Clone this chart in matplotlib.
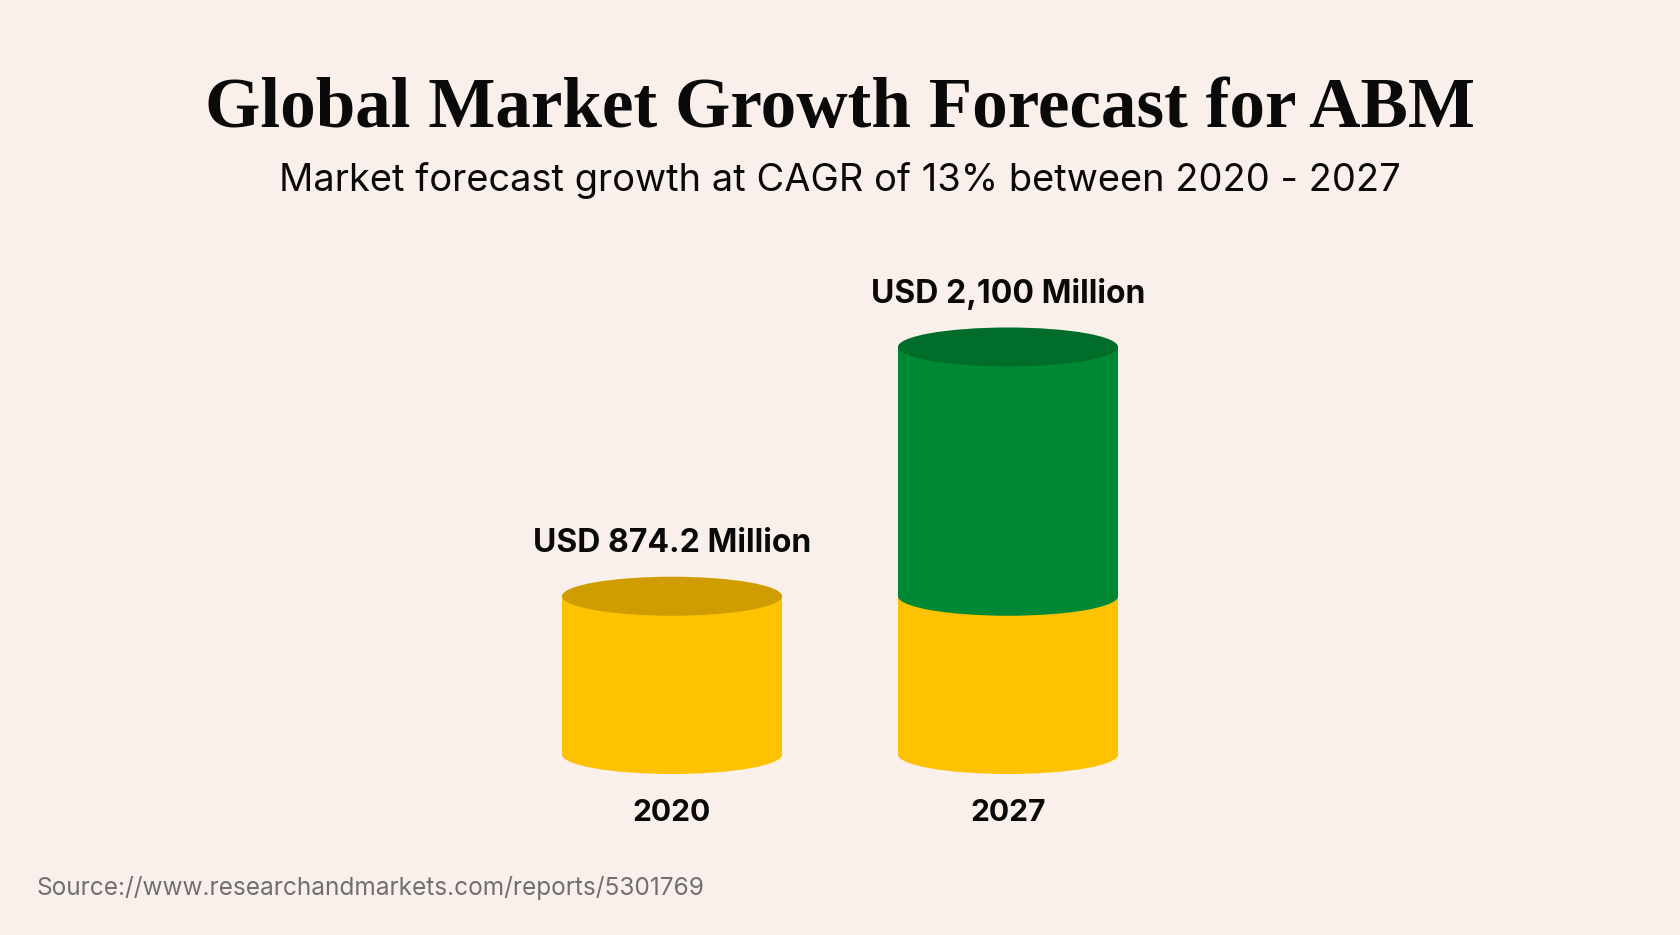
import matplotlib.pyplot as plt
from matplotlib.patches import Ellipse, Rectangle

# data
years = ["2020", "2027"]
base_values = [874.2, 874.2]      # 2020 market size (yellow part)
total_values = [874.2, 2100.0]    # market size in USD million
value_labels = ["USD 874.2 Million", "USD 2,100 Million"]

title = "Global Market Growth Forecast for ABM"
subtitle = "Market forecast growth at CAGR of 13% between 2020 - 2027"
source = "Source://www.researchandmarkets.com/reports/5301769"

BG = "#FAF0EB"
YELLOW, YELLOW_TOP = "#FFC200", "#D09D00"
GREEN, GREEN_TOP = "#008934", "#006E2A"
INK = "#0a0a0a"

fig = plt.figure(figsize=(16.8, 9.35), dpi=100, facecolor=BG)

# axes placed so value 0 sits at the bottom of the cylinders
ax = fig.add_axes([0.3, 0.17219, 0.4, 0.50018])
ax.set_facecolor(BG)
ax.set_xlim(-0.5, 1.5)
ax.set_ylim(0, 2300)
for s in ax.spines.values():
    s.set_visible(False)
ax.set_yticks([])

bar_w = 0.655
ell_h = 192  # ellipse height in data units (~39 px)


def cylinder(x, y0, y1, side, top, z, bottom_cap=True, top_cap=True):
    lo = y0 + ell_h / 2 if bottom_cap else y0
    ax.add_patch(Rectangle((x - bar_w / 2, lo), bar_w, y1 - lo,
                           color=side, lw=0, zorder=z, clip_on=False))
    ax.add_patch(Ellipse((x, lo), bar_w, ell_h, color=side, lw=0,
                         zorder=z, clip_on=False))
    if top_cap:
        ax.add_patch(Ellipse((x, y1), bar_w, ell_h, color=top, lw=0,
                             zorder=z + 0.5, clip_on=False))


for i, (b, t) in enumerate(zip(base_values, total_values)):
    has_green = t > b
    cylinder(i, 0, b, YELLOW, YELLOW_TOP, 2, bottom_cap=True,
             top_cap=not has_green)
    if has_green:
        cylinder(i, b, t, GREEN, GREEN_TOP, 3, bottom_cap=False)
    ax.annotate(value_labels[i], (i, t), xytext=(0, 38),
                textcoords="offset points", ha="center", va="center",
                fontsize=23, fontweight="bold", family="Inter", color=INK)

ax.set_xticks(range(len(years)), years)
ax.tick_params(axis="x", length=0, pad=28, labelsize=21.6)
for lab in ax.get_xticklabels():
    lab.set_fontweight("bold")
    lab.set_family("Inter")
    lab.set_va("center")
    lab.set_color(INK)

fig.text(0.5, 1 - 109 / 935, title, ha="center", va="center",
         fontsize=51.2, fontweight="bold", family="Liberation Serif",
         color=INK)
fig.text(0.5, 1 - 181 / 935, subtitle, ha="center", va="center",
         fontsize=27.4, family="Inter", color=INK)
fig.text(36 / 1680, 1 - 888 / 935, source, ha="left", va="center",
         fontsize=17.6, family="Inter", color="#707070")

fig.savefig("out.png", dpi=100, facecolor=BG)
